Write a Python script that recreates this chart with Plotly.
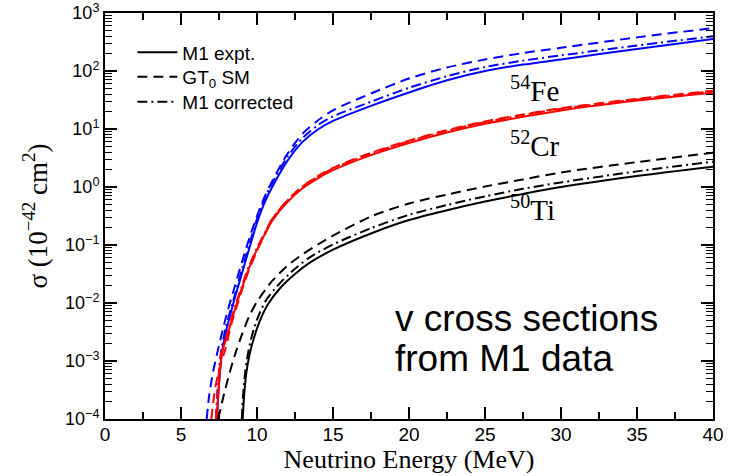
import plotly.graph_objects as go

# Neutrino-nucleus cross sections, sigma in units of 1e-42 cm^2, vs neutrino energy (MeV)

# 54Fe
fe_expt_E = [7.37, 7.5, 7.7, 8.0, 8.5, 9.0, 9.5, 10, 10.5, 11, 12, 13, 14, 15, 17.5, 20, 22.5, 25, 27.5, 30, 35, 40]
fe_expt_s = [1.0e-4, 4.0e-4, 1.41e-3, 3.55e-3, 1.12e-2, 3.16e-2, 8.9e-2, 0.24, 0.537, 1.0, 2.82, 6.0, 9.8, 13.8, 25.1, 42.7, 69.2, 100, 129, 158, 240, 355]
fe_gt_E = [6.69, 6.85, 7.1, 7.43, 8.0, 8.5, 9.0, 9.5, 10, 10.5, 11, 12, 13, 14, 15, 17.5, 20, 22.5, 25, 27.5, 30, 35, 40]
fe_gt_s = [1.0e-4, 2.5e-4, 6.3e-4, 1.55e-3, 6.3e-3, 1.78e-2, 5.0e-2, 0.132, 0.316, 0.676, 1.26, 3.72, 8.3, 14.0, 21.0, 41.0, 74.1, 115, 158, 204, 251, 380, 550]
fe_corr_E = [7.3, 7.43, 7.63, 7.95, 8.5, 9.0, 9.5, 10, 10.5, 11, 12, 13, 14, 15, 17.5, 20, 22.5, 25, 27.5, 30, 35, 40]
fe_corr_s = [1.0e-4, 4.0e-4, 1.41e-3, 3.8e-3, 1.26e-2, 3.72e-2, 0.105, 0.282, 0.631, 1.17, 3.31, 7.0, 11.6, 16.5, 29.5, 51.3, 81.3, 117, 151, 186, 275, 398]

# 52Cr
cr_expt_E = [7.35, 7.5, 7.7, 8.0, 8.5, 9.0, 9.5, 10, 10.5, 11, 12, 13, 14, 15, 17.5, 20, 22.5, 25, 27.5, 30, 35, 40]
cr_expt_s = [1.0e-4, 4.0e-4, 1.41e-3, 2.51e-3, 7.1e-3, 1.78e-2, 4.17e-2, 8.3e-2, 0.151, 0.263, 0.55, 0.95, 1.41, 1.95, 3.55, 5.75, 8.71, 12.3, 16.2, 20.9, 30.9, 42.3]
cr_gt_E = [7.0, 7.2, 7.5, 7.9, 8.33, 8.8, 9.3, 10, 10.5, 11, 12, 13, 14, 15, 17.5, 20, 22.5, 25, 27.5, 30, 35, 40]
cr_gt_s = [1.0e-4, 2.8e-4, 7.1e-4, 1.55e-3, 4.47e-3, 1.12e-2, 2.82e-2, 7.9e-2, 0.151, 0.275, 0.589, 1.02, 1.54, 2.13, 3.89, 6.31, 9.55, 13.5, 17.8, 22.9, 33.1, 45.7]
cr_corr_E = [7.3, 7.45, 7.65, 7.95, 8.45, 8.95, 9.45, 10, 10.5, 11, 12, 13, 14, 15, 17.5, 20, 22.5, 25, 27.5, 30, 35, 40]
cr_corr_s = [1.0e-4, 4.0e-4, 1.41e-3, 2.51e-3, 7.1e-3, 1.78e-2, 4.17e-2, 8.9e-2, 0.162, 0.282, 0.589, 1.02, 1.51, 2.08, 3.8, 6.17, 9.33, 13.2, 17.4, 22.4, 32.4, 44.7]

# 50Ti
ti_expt_E = [9.06, 9.15, 9.3, 9.5, 9.8, 10.2, 10.7, 11.5, 12.5, 13.5, 15, 17.5, 20, 22.5, 25, 27.5, 30, 35, 40]
ti_expt_s = [1.0e-4, 2.5e-4, 6.3e-4, 1.26e-3, 2.51e-3, 5.0e-3, 9.3e-3, 1.78e-2, 3.16e-2, 5.0e-2, 8.3e-2, 0.158, 0.269, 0.398, 0.562, 0.759, 1.0, 1.55, 2.24]
ti_gt_E = [7.45, 7.8, 8.2, 8.6, 9.0, 9.5, 10, 11, 12, 13, 14, 15, 17.5, 20, 22.5, 25, 27.5, 30, 35, 40]
ti_gt_s = [1.0e-4, 2.5e-4, 6.3e-4, 1.41e-3, 2.82e-3, 6.0e-3, 1.05e-2, 2.4e-2, 4.4e-2, 6.9e-2, 0.102, 0.145, 0.31, 0.52, 0.74, 1.02, 1.35, 1.78, 2.69, 3.89]
ti_corr_E = [9.0, 9.08, 9.22, 9.42, 9.7, 10.1, 10.6, 11.5, 12.5, 13.5, 15, 17.5, 20, 22.5, 25, 27.5, 30, 35, 40]
ti_corr_s = [1.0e-4, 2.5e-4, 6.3e-4, 1.41e-3, 2.95e-3, 6.0e-3, 1.12e-2, 2.19e-2, 3.89e-2, 6.2e-2, 0.102, 0.195, 0.331, 0.49, 0.69, 0.93, 1.20, 1.86, 2.73]

model_names = ["M1 expt.", "GT<sub>0</sub> SM", "M1 corrected"]
isotope_labels = ["<sup>54</sup>Fe", "<sup>52</sup>Cr", "<sup>50</sup>Ti"]
y_tick_exponents = [-4, -3, -2, -1, 0, 1, 2, 3]
x_ticks = [0, 5, 10, 15, 20, 25, 30, 35, 40]

DASHES = ["solid", "10px,6px", "10px,4px,2px,4px"]
LEGEND_IDS = ["legend", "legend2", "legend3"]
LEGEND_ROW_Y = [0.9027, 0.8424, 0.7808]  # centre of each key row, plot-area fraction
SANS = "Liberation Sans, Arial, sans-serif"
SERIF = "Liberation Serif, Times New Roman, serif"

fig = go.Figure()

groups = [
    ("#0000ff", [(fe_expt_E, fe_expt_s), (fe_gt_E, fe_gt_s), (fe_corr_E, fe_corr_s)], False),
    ("#ff0000", [(cr_expt_E, cr_expt_s), (cr_gt_E, cr_gt_s), (cr_corr_E, cr_corr_s)], False),
    ("#000000", [(ti_expt_E, ti_expt_s), (ti_gt_E, ti_gt_s), (ti_corr_E, ti_corr_s)], True),
]
for color, curves, in_legend in groups:
    for (E, s), dash, name, leg in zip(curves, DASHES, model_names, LEGEND_IDS):
        fig.add_trace(go.Scatter(
            x=E, y=s, mode="lines", name=name, showlegend=in_legend, legend=leg,
            line=dict(color=color, width=2, dash=dash, shape="spline", smoothing=0.8),
        ))

# isotope labels beside each family of curves (y given as log10 of sigma)
label_log_y = [1.69, 0.74, -0.37]
for text, ly in zip(isotope_labels, label_log_y):
    fig.add_annotation(x=26.53, y=ly, xref="x", yref="y",
                       text=text, showarrow=False, xanchor="left", yanchor="middle",
                       font=dict(family=SERIF, size=29, color="black"))

for line_text, ly in [("v cross sections", -2.27), ("from M1 data", -2.96)]:
    fig.add_annotation(x=18.95, y=ly, xref="x", yref="y", text=line_text,
                       showarrow=False, xanchor="left", yanchor="middle",
                       font=dict(family=SANS, size=37, color="black"))

axis_common = dict(
    showline=True, linecolor="black", linewidth=2, mirror="ticks",
    ticks="inside", tickcolor="black", tickwidth=1.5,
    showgrid=False, zeroline=False, automargin=False,
)

fig.update_xaxes(
    range=[0, 40], tickvals=x_ticks, ticklen=12, ticklabelstandoff=-3,
    minor=dict(ticks="inside", dtick=2.5, tick0=0, ticklen=7, tickcolor="black", tickwidth=1.5),
    tickfont=dict(family=SANS, size=19, color="black"),
    title=dict(text="Neutrino Energy (MeV)", font=dict(family=SERIF, size=26, color="black"), standoff=0),
    **axis_common,
)

minor_y = [k * 10.0 ** n for n in range(-4, 3) for k in range(2, 10)]
fig.update_yaxes(
    type="log", range=[-4, 3],
    tickvals=[10.0 ** p for p in y_tick_exponents],
    ticktext=["10<sup>" + (str(p) if p >= 0 else "\u2212" + str(-p)) + "</sup>" for p in y_tick_exponents],
    ticklen=12,
    minor=dict(ticks="inside", tickvals=minor_y, ticklen=7, tickcolor="black", tickwidth=1.2),
    tickfont=dict(family=SANS, size=18, color="black"),
    title=dict(text="\u03c3 (10<sup>\u221242</sup> cm<sup>2</sup>)", font=dict(family=SERIF, size=27, color="black"), standoff=10),
    **axis_common,
)

legend_style = dict(x=0.045, xanchor="left", yanchor="middle",
                    font=dict(family=SANS, size=19, color="black"),
                    bgcolor="rgba(0,0,0,0)", itemwidth=40)

fig.update_layout(
    width=740, height=476,
    margin=dict(l=105, r=27, t=13, b=57),
    paper_bgcolor="white", plot_bgcolor="white",
    **{lid: dict(y=ly, **legend_style) for lid, ly in zip(LEGEND_IDS, LEGEND_ROW_Y)},
)

fig.write_html("out.html")
